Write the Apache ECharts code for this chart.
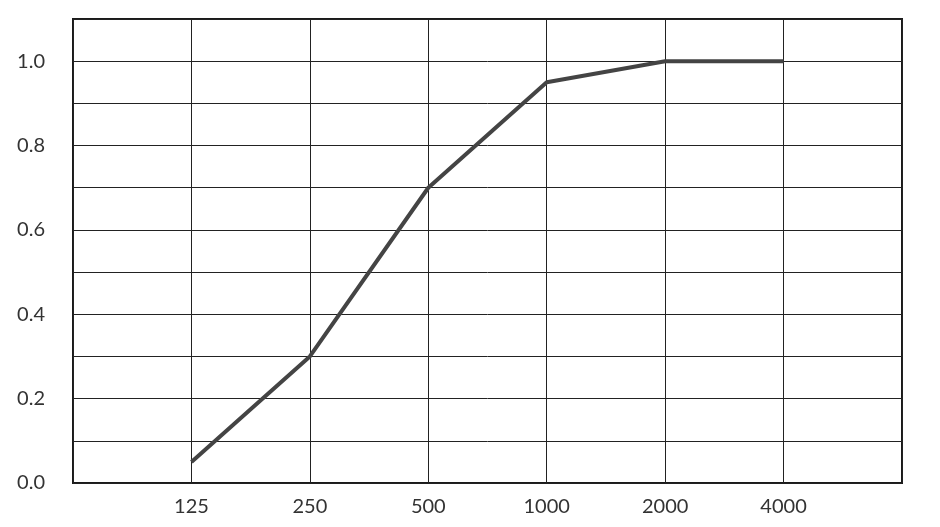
<!DOCTYPE html>
<html>
<head>
<meta charset="utf-8">
<script src="https://cdn.jsdelivr.net/npm/echarts@6/dist/echarts.min.js"></script>
<style>html,body{margin:0;padding:0;background:#fff}#c{width:940px;height:527px}</style>
</head>
<body>
<div id="c"></div>
<script>
var categories = ['', '125', '250', '500', '1000', '2000', '4000', ''];
var values = [null, 0.05, 0.30, 0.70, 0.95, 1.00, 1.00, null];
var yTickLabels = ['0.0', '0.2', '0.4', '0.6', '0.8', '1.0'];

var chart = echarts.init(document.getElementById('c'));
chart.setOption({
  animation: false,
  grid: { left: 73, right: 38, top: 19, bottom: 44, show: true, borderColor: '#1a1a1a', borderWidth: 2, backgroundColor: '#fff' },
  xAxis: {
    type: 'category', data: categories, boundaryGap: false,
    axisLine: { show: false }, axisTick: { show: false },
    splitLine: { show: true, lineStyle: { color: '#222', width: 1 } },
    axisLabel: { color: '#333', fontFamily: 'Lato', fontSize: 20, margin: 14, interval: 0 }
  },
  yAxis: {
    type: 'value', min: 0, max: 1.1, interval: 0.1,
    axisLine: { show: false }, axisTick: { show: false },
    splitLine: { show: true, lineStyle: { color: '#222', width: 1 } },
    axisLabel: {
      color: '#333', fontFamily: 'Lato', fontSize: 20, margin: 28,
      formatter: function (v) {
        var k = Math.round(v * 10);
        if (k % 2 !== 0) return '';
        var s = (k / 10).toFixed(1);
        return yTickLabels.indexOf(s) >= 0 ? s : '';
      }
    }
  },
  series: [{
    type: 'line', data: values, symbol: 'none', connectNulls: false,
    lineStyle: { color: '#444', width: 4 }
  }]
});
</script>
</body>
</html>
